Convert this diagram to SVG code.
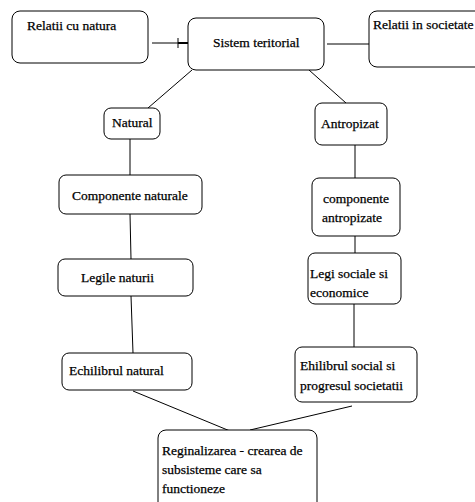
<svg xmlns="http://www.w3.org/2000/svg" width="475" height="502" viewBox="0 0 475 502">
<style>
.box{fill:#fff;stroke:#000;stroke-width:1}
.t{font-family:'Liberation Serif','DejaVu Serif',serif;font-size:13.5px;fill:#000;stroke:#000;stroke-width:0.25}
.c{stroke:#000;stroke-width:1;fill:none}
</style>
<rect width="475" height="502" fill="#fff"/>
<g id="connectors">
<line class="c" x1="152" y1="43" x2="188" y2="43"/>
<line class="c" x1="178" y1="38" x2="178" y2="48"/>
<line x1="178" y1="43" x2="188" y2="43" stroke="#000" stroke-width="2"/>
<line class="c" x1="327" y1="44" x2="369" y2="44"/>
<line class="c" x1="192" y1="70" x2="148" y2="108"/>
<line class="c" x1="309" y1="70" x2="346" y2="103"/>
<line class="c" x1="130" y1="139" x2="130" y2="175"/>
<line class="c" x1="130" y1="214" x2="131" y2="259"/>
<line class="c" x1="131" y1="296" x2="133" y2="353"/>
<line class="c" x1="355" y1="145" x2="355" y2="178"/>
<line class="c" x1="355" y1="236" x2="355" y2="253"/>
<line class="c" x1="354" y1="304" x2="354" y2="347"/>
<line class="c" x1="133" y1="391" x2="230" y2="431"/>
<line class="c" x1="352" y1="406" x2="250" y2="430"/>
</g>
<g id="relatii-natura"><rect class="box" x="12" y="11" width="136" height="52" rx="8"/><text class="t" x="27" y="30">Relatii cu natura</text></g>
<g id="sistem"><rect class="box" x="188" y="18" width="136" height="52" rx="8"/><text class="t" x="213" y="47">Sistem teritorial</text></g>
<g id="relatii-societate"><rect class="box" x="369" y="11" width="120" height="56" rx="8"/><text class="t" x="373" y="29">Relatii in societate</text></g>
<g id="natural"><rect class="box" x="104" y="108" width="56" height="31" rx="7"/><text class="t" x="112" y="127">Natural</text></g>
<g id="antropizat"><rect class="box" x="315" y="103" width="72" height="42" rx="7"/><text class="t" x="321" y="128">Antropizat</text></g>
<g id="componente-naturale"><rect class="box" x="59" y="175" width="143" height="39" rx="7"/><text class="t" x="72" y="200">Componente naturale</text></g>
<g id="componente-antropizate"><rect class="box" x="312" y="178" width="88" height="58" rx="7"/><text class="t" x="323" y="203">componente</text><text class="t" x="322" y="222">antropizate</text></g>
<g id="legile-naturii"><rect class="box" x="58" y="259" width="135" height="37" rx="7"/><text class="t" x="81" y="282">Legile naturii</text></g>
<g id="legi-sociale"><rect class="box" x="308" y="253" width="93" height="51" rx="7"/><text class="t" x="310" y="278">Legi sociale si</text><text class="t" x="310" y="297">economice</text></g>
<g id="echilibrul-natural"><rect class="box" x="62" y="353" width="130" height="37" rx="7"/><text class="t" x="69" y="375">Echilibrul natural</text></g>
<g id="ehilibrul-social"><rect class="box" x="295" y="347" width="122" height="55" rx="7"/><text class="t" x="300" y="370">Ehilibrul social si</text><text class="t" x="300" y="390">progresul societatii</text></g>
<g id="reginalizarea"><rect class="box" x="158" y="430" width="159" height="90" rx="8"/><text class="t" x="162" y="455">Reginalizarea - crearea de</text><text class="t" x="162" y="474">subsisteme care sa</text><text class="t" x="162" y="493">functioneze</text></g>
</svg>
